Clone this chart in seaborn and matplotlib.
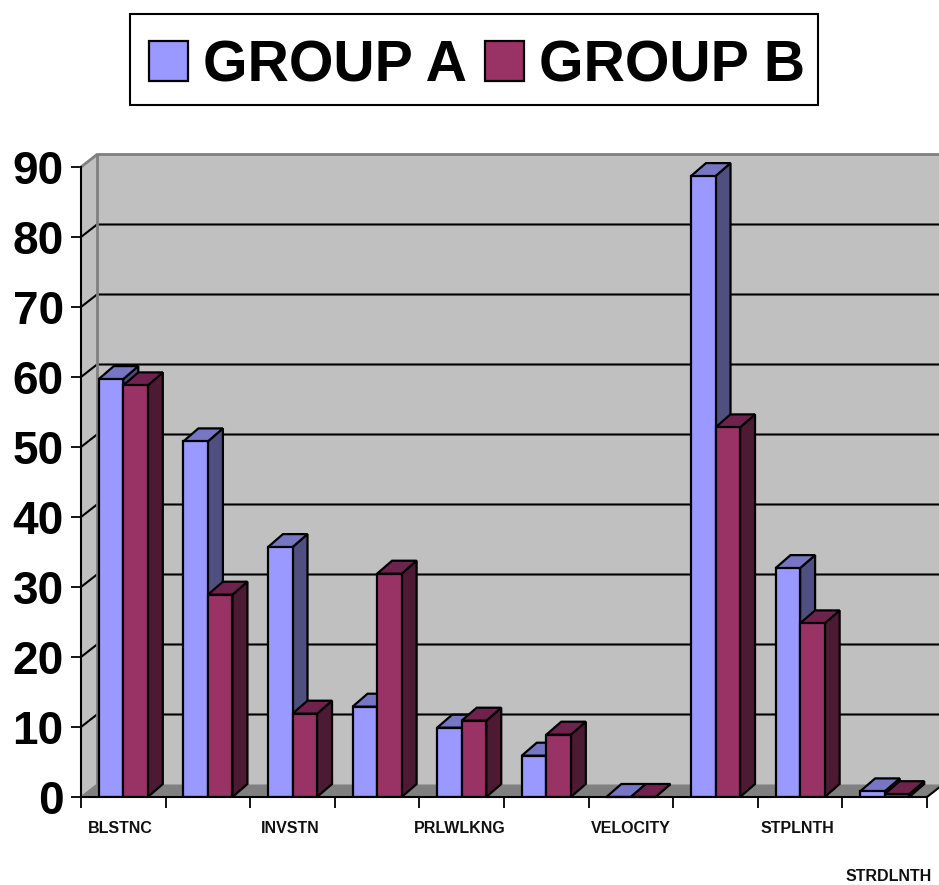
import matplotlib
matplotlib.use("Agg")
import matplotlib.pyplot as plt
from matplotlib.patches import Polygon, Rectangle
from matplotlib.transforms import ScaledTranslation
import numpy as np
import pandas as pd
import seaborn as sns

# Measures along the x axis; only some carry a printed label
tick_labels = ["BLSTNC", "", "INVSTN", "", "PRLWLKNG", "", "VELOCITY", "", "STPLNTH", "STRDLNTH"]
group_a = [59.7, 50.8, 35.7, 12.9, 9.9, 5.9, 0, 88.7, 32.7, 0.8]
group_b = [58.8, 28.9, 11.9, 31.9, 10.9, 8.9, 0, 52.8, 24.8, 0.4]
y_ticks = [0, 10, 20, 30, 40, 50, 60, 70, 80, 90]

face_colors = {"GROUP A": "#9999FF", "GROUP B": "#993366"}
side_colors = {"GROUP A": "#4F4F80", "GROUP B": "#4D1A33"}
top_colors = {"GROUP A": "#7676C4", "GROUP B": "#70224F"}
WALL = "#C0C0C0"
FLOOR = "#808080"

sns.set_theme(style="white")
plt.rcParams["font.family"] = ["Liberation Sans", "DejaVu Sans"]
plt.rcParams["font.weight"] = "bold"

W, H = 939, 885
fig = plt.figure(figsize=(W / 100, H / 100), dpi=100, facecolor="white")
ax = fig.add_axes([81 / W, (H - 797) / H, 846 / W, 630 / H])

positions = list(range(len(group_a)))
df = pd.DataFrame({
    "pos": positions * 2,
    "value": group_a + group_b,
    "group": ["GROUP A"] * len(group_a) + ["GROUP B"] * len(group_b),
})
sns.barplot(data=df, x="pos", y="value", hue="group", palette=face_colors,
            width=0.58, gap=0, saturation=1, edgecolor="black", linewidth=1.6,
            ax=ax, zorder=6)
ax.set_xlim(-0.5, 9.5)
ax.set_ylim(0, 90)
ax.set_xlabel("")
ax.set_ylabel("")

# Depth of the extruded walls and bars, in data units
wall_dx, wall_dy = 16 / 84.6, 12.5 / 7
bar_dx, bar_dy = 15 / 84.6, 13 / 7
x0, x1 = ax.get_xlim()
y0, y1 = ax.get_ylim()


def poly(points, face, edge="none", lw=0, z=1):
    ax.add_patch(Polygon(points, closed=True, facecolor=face, edgecolor=edge,
                         linewidth=lw, zorder=z, clip_on=False, joinstyle="miter"))


# Back wall, side wall and floor of the chart box
poly([(x0 + wall_dx, y0 + wall_dy), (x1 + wall_dx, y0 + wall_dy),
      (x1 + wall_dx, y1 + wall_dy), (x0 + wall_dx, y1 + wall_dy)], WALL)
poly([(x0, y0), (x0 + wall_dx, y0 + wall_dy), (x0 + wall_dx, y1 + wall_dy), (x0, y1)], WALL)
poly([(x0, y0), (x1, y0), (x1 + wall_dx, y0 + wall_dy), (x0 + wall_dx, y0 + wall_dy)], FLOOR)

# Grid lines run across the side wall and along the back wall
for v in y_ticks[1:-1]:
    ax.plot([x0, x0 + wall_dx, x1 + wall_dx], [v, v + wall_dy, v + wall_dy],
            color="black", lw=1.5, zorder=2, clip_on=False, solid_joinstyle="miter")
ax.plot([x0, x0 + wall_dx, x1 + wall_dx], [y1, y1 + wall_dy, y1 + wall_dy],
        color=FLOOR, lw=2, zorder=2, clip_on=False)
ax.plot([x0 + wall_dx, x0 + wall_dx], [y0 + wall_dy, y1 + wall_dy],
        color=FLOOR, lw=2, zorder=2, clip_on=False)
ax.plot([x0, x0 + wall_dx], [y0, y0 + wall_dy], color=FLOOR, lw=1.2, zorder=2, clip_on=False)
ax.plot([x1, x1 + wall_dx], [y0, y0 + wall_dy], color="black", lw=1.5, zorder=2, clip_on=False)

# Extrude every bar: the top and right faces sit behind the front faces
for z, (name, container) in enumerate(zip(["GROUP A", "GROUP B"], ax.containers)):
    for rect in container:
        xl, w, v = rect.get_x(), rect.get_width(), rect.get_height()
        xr = xl + w
        poly([(xr, 0), (xr + bar_dx, bar_dy), (xr + bar_dx, v + bar_dy), (xr, v)],
             side_colors[name], "black", 1.6, 3 + z)
        poly([(xl, v), (xl + bar_dx, v + bar_dy), (xr + bar_dx, v + bar_dy), (xr, v)],
             top_colors[name], "black", 1.6, 3 + z)

# Axes: value labels on the left, category boundaries as minor ticks
for side in ("top", "right"):
    ax.spines[side].set_visible(False)
for side in ("left", "bottom"):
    ax.spines[side].set_visible(True)
    ax.spines[side].set_color("black")
    ax.spines[side].set_linewidth(1.5)
    ax.spines[side].set_zorder(8)

ax.set_yticks(y_ticks)
ax.set_yticklabels([str(v) for v in y_ticks], fontsize=33, fontweight="bold", color="black")
ax.tick_params(axis="y", which="major", left=True, length=7.5, width=1.3, color="black", pad=5)

ax.set_xticks(positions)
ax.set_xticklabels(tick_labels, fontsize=11.5, fontweight="bold", color="#111111")
ax.set_xticks(np.arange(x0, x1 + 0.5, 1), minor=True)
ax.tick_params(axis="x", which="major", bottom=False, pad=11)
ax.tick_params(axis="x", which="minor", bottom=True, length=8, width=1.3, color="black")
ax.xaxis.get_major_ticks()[-1].set_pad(46)

# Small horizontal nudges for the printed category labels
for label, shift_px in zip(ax.get_xticklabels(), [-3, 0, -2, 0, -2, 0, 0, 0, -3, 4]):
    label.set_transform(label.get_transform()
                        + ScaledTranslation(shift_px / 100, 0, fig.dpi_scale_trans))

# Legend above the chart, inside a plain rectangular box
handles, labels = ax.get_legend_handles_labels()
ax.get_legend().remove()
fig.legend(handles, labels, loc="center", bbox_to_anchor=(477 / W, 1 - 66 / H), ncol=2,
           fontsize=41.2, frameon=False, labelcolor="black",
           handlelength=0.68, handleheight=0.7, handletextpad=0.27, columnspacing=0.31,
           borderpad=0.3, borderaxespad=0)
fig.add_artist(Rectangle((130 / W, 1 - 105 / H), 688 / W, 91 / H, transform=fig.transFigure,
                         facecolor="none", edgecolor="black", linewidth=1.5))

fig.savefig("out.png", dpi=100, facecolor="white")
